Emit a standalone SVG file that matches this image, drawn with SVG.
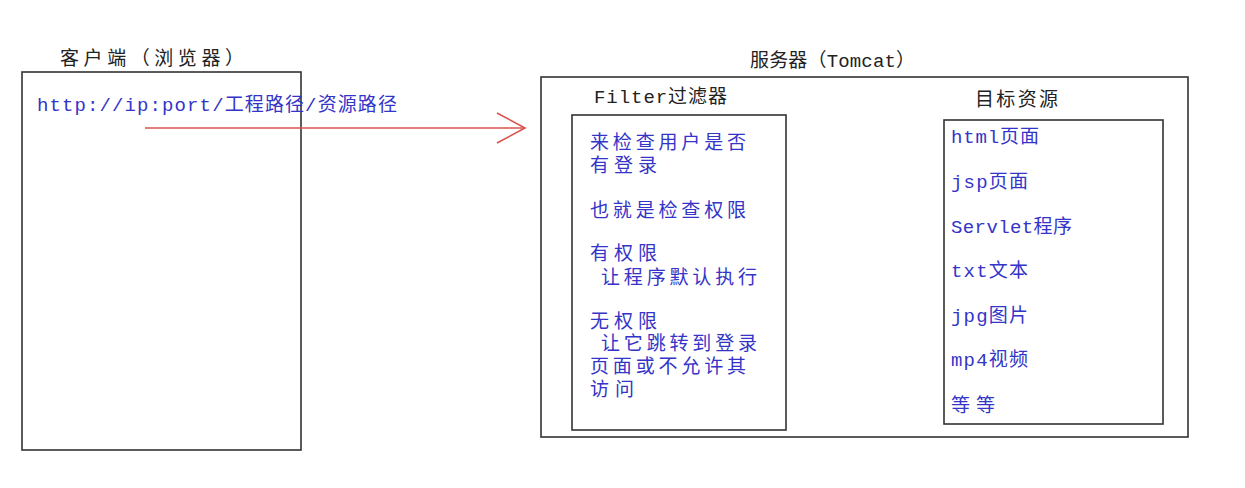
<svg xmlns="http://www.w3.org/2000/svg" width="1245" height="488" viewBox="0 0 1245 488">
<style>
.box{fill:none;stroke:#333;stroke-width:1.6}
.title{font-family:"Liberation Mono","Noto Sans CJK SC",monospace;font-size:19px;fill:#222}
.blue{font-family:"Liberation Mono","Noto Sans CJK SC",monospace;font-size:19px;fill:#3434c8}
.cjk{font-family:"Noto Sans CJK SC",sans-serif;font-size:19px;fill:#3434c8}
.c{font-family:"Noto Sans CJK SC",sans-serif;font-size:19px}
.arrow{fill:none;stroke:#d9534f;stroke-width:1.6}
</style>
<rect width="1245" height="488" fill="#fff"/>
<g id="client">
<rect class="box" x="22" y="72" width="279" height="378"/>
<text class="title" x="60" y="65" textLength="184" lengthAdjust="spacing">客户端（浏览器）</text>
<text class="blue" x="37" y="111" textLength="360" lengthAdjust="spacing">http://ip:port/<tspan class="c">工程路径</tspan>/<tspan class="c">资源路径</tspan></text>
</g>
<g id="server">
<rect class="box" x="541" y="77" width="647" height="360"/>
<text class="title" x="750" y="67" textLength="165" lengthAdjust="spacing">服务器（Tomcat）</text>
</g>
<g id="filter">
<text class="title" x="594" y="103" textLength="133" lengthAdjust="spacing">Filter过滤器</text>
<rect class="box" x="572" y="115" width="214" height="315"/>
<text class="cjk" x="590" y="149" textLength="156" lengthAdjust="spacing">来检查用户是否</text>
<text class="cjk" x="590" y="172" textLength="67" lengthAdjust="spacing">有登录</text>
<text class="cjk" x="590" y="217" textLength="156" lengthAdjust="spacing">也就是检查权限</text>
<text class="cjk" x="590" y="260" textLength="67" lengthAdjust="spacing">有权限</text>
<text class="cjk" x="601" y="284" textLength="156" lengthAdjust="spacing">让程序默认执行</text>
<text class="cjk" x="590" y="328" textLength="67" lengthAdjust="spacing">无权限</text>
<text class="cjk" x="601" y="350" textLength="156" lengthAdjust="spacing">让它跳转到登录</text>
<text class="cjk" x="590" y="373" textLength="156" lengthAdjust="spacing">页面或不允许其</text>
<text class="cjk" x="590" y="396" textLength="44" lengthAdjust="spacing">访问</text>
</g>
<g id="target">
<text class="title" x="975" y="106" textLength="83" lengthAdjust="spacing">目标资源</text>
<rect class="box" x="944" y="120" width="219" height="304"/>
<text class="blue" x="951" y="143" textLength="88" lengthAdjust="spacing">html<tspan class="c">页面</tspan></text>
<text class="blue" x="951" y="188" textLength="77" lengthAdjust="spacing">jsp<tspan class="c">页面</tspan></text>
<text class="blue" x="951" y="233" textLength="121" lengthAdjust="spacing">Servlet<tspan class="c">程序</tspan></text>
<text class="blue" x="951" y="277" textLength="77" lengthAdjust="spacing">txt<tspan class="c">文本</tspan></text>
<text class="blue" x="951" y="322" textLength="77" lengthAdjust="spacing">jpg<tspan class="c">图片</tspan></text>
<text class="blue" x="951" y="366" textLength="77" lengthAdjust="spacing">mp4<tspan class="c">视频</tspan></text>
<text class="cjk" x="951" y="412" textLength="44" lengthAdjust="spacing">等等</text>
</g>
<g id="connectors">
<line class="arrow" x1="145" y1="128" x2="524" y2="128"/>
<polyline class="arrow" points="497,113 525,128 497,143"/>
</g>
</svg>
